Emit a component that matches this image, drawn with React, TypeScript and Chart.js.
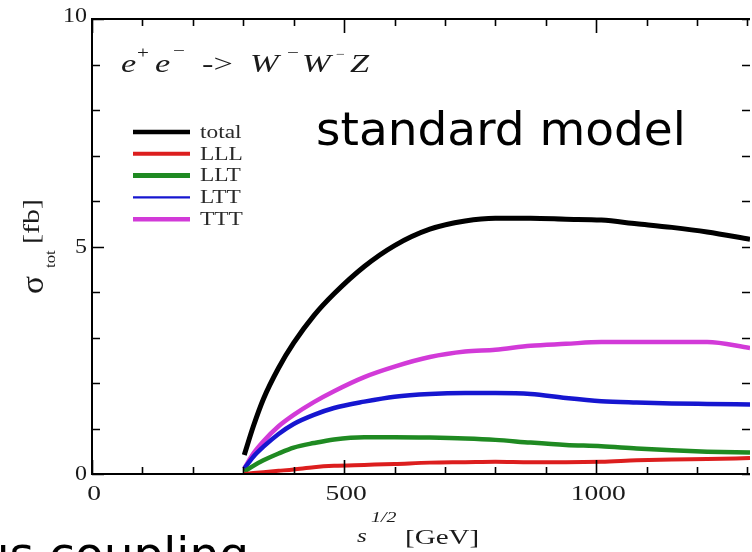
import React, { useEffect, useRef } from "react";
import { Chart, registerables } from "chart.js";

Chart.register(...registerables);

// ---- data ----
const energies = [302, 320, 340, 370, 400, 440, 480, 540, 600, 670, 740, 800, 870, 940, 1010, 1080, 1150, 1220, 1305];
const totalValues = [0.42, 1.05, 1.65, 2.33, 2.88, 3.48, 3.96, 4.56, 5.02, 5.38, 5.56, 5.62, 5.62, 5.6, 5.58, 5.5, 5.42, 5.32, 5.16];
const lllValues = [0.0, 0.02, 0.04, 0.07, 0.1, 0.15, 0.18, 0.2, 0.22, 0.25, 0.26, 0.27, 0.26, 0.26, 0.27, 0.3, 0.32, 0.33, 0.35];
const lltValues = [0.05, 0.18, 0.3, 0.45, 0.58, 0.68, 0.76, 0.81, 0.81, 0.8, 0.78, 0.75, 0.69, 0.64, 0.61, 0.56, 0.52, 0.49, 0.47];
const lttValues = [0.12, 0.38, 0.6, 0.88, 1.1, 1.3, 1.45, 1.59, 1.7, 1.76, 1.78, 1.78, 1.76, 1.67, 1.6, 1.57, 1.55, 1.54, 1.53];
const tttValues = [0.12, 0.45, 0.72, 1.05, 1.3, 1.58, 1.82, 2.13, 2.36, 2.57, 2.69, 2.73, 2.82, 2.86, 2.9, 2.9, 2.9, 2.9, 2.77];

const seriesLabels = ["total", "LLL", "LLT", "LTT", "TTT"];
const seriesValues = [totalValues, lllValues, lltValues, lttValues, tttValues];
const seriesColors = ["#000000", "#dc1e1e", "#1f8a22", "#1616d0", "#d23ad8"];
const seriesWidths = [5, 4, 4.5, 4.5, 4.5];
const legendWidths = [4.5, 4, 5, 2.2, 4.5];

const xTickLabels = [0, 500, 1000];
const yTickLabels = [0, 5, 10];
const xMin = 0;
const xMax = 1305;
const yMin = 0;
const yMax = 10;
const xMinorStep = 100;
const yMinorStep = 1;

const SERIF = "'Liberation Serif', 'DejaVu Serif', serif";
const SANS = "'DejaVu Sans', Verdana, sans-serif";
const STRETCH = 1.32;

function stext(
  ctx: CanvasRenderingContext2D,
  text: string,
  x: number,
  y: number,
  font: string,
  align: CanvasTextAlign = "left",
  baseline: CanvasTextBaseline = "alphabetic",
  sx: number = STRETCH,
  color: string = "#1a1a1a"
) {
  ctx.save();
  ctx.font = font;
  ctx.fillStyle = color;
  ctx.textAlign = align;
  ctx.textBaseline = baseline;
  ctx.translate(x, y);
  ctx.scale(sx, 1);
  ctx.fillText(text, 0, 0);
  ctx.restore();
}

const decorPlugin = {
  id: "decor",
  afterDraw(chart: any) {
    const ctx: CanvasRenderingContext2D = chart.ctx;
    const xs = chart.scales.x;
    const ys = chart.scales.y;
    const { left, right, top, bottom } = chart.chartArea;

    ctx.save();
    // frame
    ctx.strokeStyle = "#000";
    ctx.lineWidth = 2;
    ctx.beginPath();
    ctx.moveTo(right, top);
    ctx.lineTo(left, top);
    ctx.lineTo(left, bottom);
    ctx.lineTo(right, bottom);
    ctx.stroke();

    // x ticks (inward, top & bottom)
    ctx.lineWidth = 1.6;
    ctx.beginPath();
    for (let v = xMin; v <= xMax; v += xMinorStep) {
      const px = Math.round(xs.getPixelForValue(v)) + 0.5;
      const len = v % 500 === 0 ? 14 : 7;
      ctx.moveTo(px, bottom);
      ctx.lineTo(px, bottom - len);
      ctx.moveTo(px, top);
      ctx.lineTo(px, top + len);
    }
    // y ticks (inward, left & right)
    for (let v = yMin; v <= yMax; v += yMinorStep) {
      const py = Math.round(ys.getPixelForValue(v)) + 0.5;
      const len = v % 5 === 0 ? 12 : 8;
      ctx.moveTo(left, py);
      ctx.lineTo(left + len, py);
      ctx.moveTo(right - 8, py);
      ctx.lineTo(right, py);
    }
    ctx.stroke();

    // tick labels
    xTickLabels.forEach((v) => {
      stext(ctx, String(v), xs.getPixelForValue(v) + 2, bottom + 26, `22px ${SERIF}`, "center", "alphabetic", 1.25);
    });
    yTickLabels.forEach((v) => {
      stext(ctx, String(v), left - 5, ys.getPixelForValue(v) + (v === yMax ? -2 : 1), `20px ${SERIF}`, "right", "middle", 1.2);
    });

    // x axis title: s^{1/2} [GeV]
    stext(ctx, "s", 357, 542, `italic 19px ${SERIF}`);
    stext(ctx, "1/2", 371, 522, `italic 15px ${SERIF}`);
    stext(ctx, "[GeV]", 405, 544, `22px ${SERIF}`);

    // y axis title: sigma_tot [fb] (rotated)
    ctx.save();
    ctx.translate(43, 296);
    ctx.rotate(-Math.PI / 2);
    stext(ctx, "σ", 2, 0, `32px ${SERIF}`, "left", "alphabetic", 1.05);
    stext(ctx, "tot", 28, 12, `14px ${SERIF}`, "left", "alphabetic", 1.2);
    stext(ctx, "[fb]", 52, -4, `24px ${SERIF}`, "left", "alphabetic", 1.25);
    ctx.restore();

    // process title
    const it = `italic 26px ${SERIF}`;
    const sup = `16px ${SERIF}`;
    stext(ctx, "e", 121, 72, it);
    stext(ctx, "+", 137, 58, sup);
    stext(ctx, "e", 155, 72, it);
    stext(ctx, "−", 173, 56, sup);
    stext(ctx, "->", 202, 72, `26px ${SERIF}`);
    stext(ctx, "W", 250, 72, it);
    stext(ctx, "−", 287, 58, sup);
    stext(ctx, "W", 302, 72, it);
    stext(ctx, "−", 336, 58, `12px ${SERIF}`);
    stext(ctx, "Z", 350, 72, it);

    // legend
    const lx0 = 133;
    const lx1 = 190;
    const ly0 = 132;
    const lstep = 21.8;
    seriesLabels.forEach((lab, i) => {
      const y = ly0 + i * lstep;
      ctx.strokeStyle = seriesColors[i];
      ctx.lineWidth = legendWidths[i];
      ctx.lineCap = "butt";
      ctx.beginPath();
      ctx.moveTo(lx0, y);
      ctx.lineTo(lx1, y);
      ctx.stroke();
      stext(ctx, lab, 200, y + 1, `18px ${SERIF}`, "left", "middle", 1.3, "#2a2a2a");
    });

    // slide texts
    stext(ctx, "standard model", 316, 145, `47px ${SANS}`, "left", "alphabetic", 1, "#000");
    stext(ctx, "us coupling", 249, 570, `47px ${SANS}`, "right", "alphabetic", 1, "#000");

    ctx.restore();
  },
};

export default function App() {
  const ref = useRef<HTMLCanvasElement | null>(null);

  useEffect(() => {
    if (!ref.current) return;
    const datasets = seriesLabels.map((label, i) => ({
      label,
      data: energies.map((e, k) => ({ x: e, y: seriesValues[i][k] })),
      borderColor: seriesColors[i],
      backgroundColor: seriesColors[i],
      borderWidth: seriesWidths[i],
      pointRadius: 0,
      fill: false,
      cubicInterpolationMode: "monotone" as const,
      order: i,
    }));
    const chart = new Chart(ref.current, {
      type: "line",
      data: { datasets },
      options: {
        animation: false,
        responsive: false,
        devicePixelRatio: 1,
        layout: { padding: { left: 92, top: 19, right: 2, bottom: 78 } },
        plugins: { legend: { display: false }, tooltip: { enabled: false }, title: { display: false } },
        scales: {
          x: { type: "linear", min: xMin, max: xMax, display: false },
          y: { type: "linear", min: yMin, max: yMax, display: false },
        },
      },
      plugins: [decorPlugin],
    });
    return () => chart.destroy();
  }, []);

  return (
    <div
      style={{
        position: "fixed",
        left: 0,
        top: 0,
        width: 752,
        height: 552,
        overflow: "hidden",
        background: "#fff",
      }}
    >
      <canvas ref={ref} width={752} height={552} style={{ display: "block" }} />
    </div>
  );
}
